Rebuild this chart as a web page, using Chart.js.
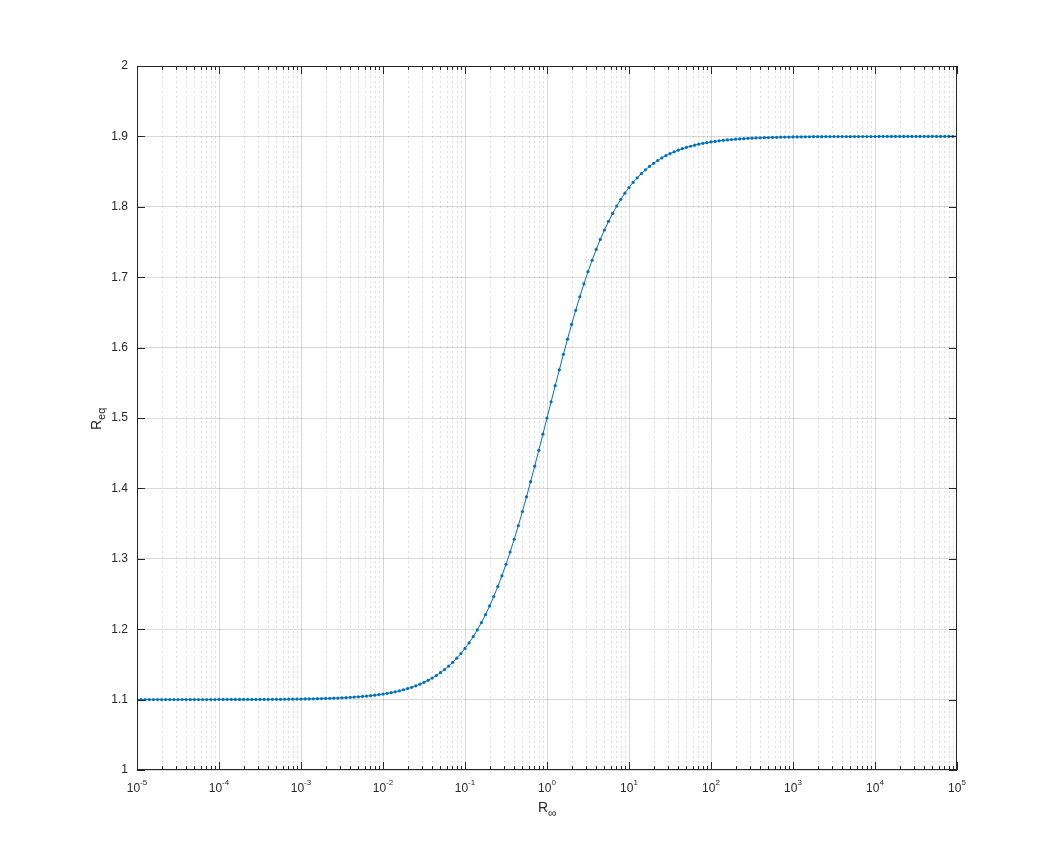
<!DOCTYPE html>
<html><head><meta charset="utf-8">
<script src="https://cdn.jsdelivr.net/npm/chart.js@4.4.0/dist/chart.umd.min.js"></script>
<style>html,body{margin:0;padding:0;background:#fff}#w{width:1058px;height:866px}</style>
</head><body><div id="w"><canvas id="c"></canvas></div>
<script>
// exponents of R_inf: -5 .. 5 in 0.05 steps (sampling grid)
const xStart = -5, xStep = 0.05;
const yNeg = [1.1000,1.1000,1.1000,1.1000,1.1000,1.1000,1.1000,1.1000,1.1000,1.1000,
1.1001,1.1001,1.1001,1.1001,1.1001,1.1001,1.1001,1.1001,1.1001,1.1001,
1.1002,1.1002,1.1002,1.1002,1.1002,1.1002,1.1002,1.1002,1.1002,1.1002,
1.1003,1.1003,1.1003,1.1004,1.1004,1.1004,1.1005,1.1006,1.1006,1.1007,
1.1008,1.1009,1.1010,1.1011,1.1013,1.1014,1.1016,1.1018,1.1020,1.1022,
1.1025,1.1028,1.1032,1.1036,1.1040,1.1045,1.1050,1.1056,1.1063,1.1071,
1.1079,1.1089,1.1099,1.1111,1.1125,1.1140,1.1157,1.1175,1.1196,1.1219,
1.1245,1.1274,1.1306,1.1342,1.1382,1.1426,1.1475,1.1529,1.1589,1.1654,
1.1727,1.1807,1.1894,1.1990,1.2094,1.2207,1.2330,1.2463,1.2606,1.2759,
1.2922,1.3095,1.3278,1.3470,1.3671,1.3880,1.4095,1.4316,1.4541,1.4770];
const yMid = [1.5000];
const yPos = [1.5230,1.5459,1.5684,1.5905,1.6120,1.6329,1.6530,1.6722,1.6905,1.7078,
1.7241,1.7394,1.7537,1.7670,1.7793,1.7906,1.8010,1.8106,1.8193,1.8273,
1.8346,1.8411,1.8471,1.8525,1.8574,1.8618,1.8658,1.8694,1.8726,1.8755,
1.8781,1.8804,1.8825,1.8843,1.8860,1.8875,1.8889,1.8901,1.8911,1.8921,
1.8929,1.8937,1.8944,1.8950,1.8955,1.8960,1.8964,1.8968,1.8972,1.8975,
1.8978,1.8980,1.8982,1.8984,1.8986,1.8987,1.8989,1.8990,1.8991,1.8992,
1.8993,1.8994,1.8994,1.8995,1.8996,1.8996,1.8996,1.8997,1.8997,1.8997,
1.8998,1.8998,1.8998,1.8998,1.8998,1.8998,1.8998,1.8998,1.8998,1.8998,
1.8999,1.8999,1.8999,1.8999,1.8999,1.8999,1.8999,1.8999,1.8999,1.8999,
1.9000,1.9000,1.9000,1.9000,1.9000,1.9000,1.9000,1.9000,1.9000,1.9000];
const yTicks = [1,1.1,1.2,1.3,1.4,1.5,1.6,1.7,1.8,1.9,2];
const xDecades = [-5,-4,-3,-2,-1,0,1,2,3,4,5];

const yAll = yNeg.concat(yMid, yPos);
const pts = yAll.map((y,i)=>({x:Math.pow(10, xStart + i*xStep), y}));

const FONT = 'Helvetica, "Liberation Sans", Arial, sans-serif';
const TXT = '#262626';

const deco = {
  id:'deco',
  beforeDatasetsDraw(chart){
    const {ctx, chartArea:a} = chart, xs = chart.scales.x;
    ctx.save();
    ctx.lineWidth = 1;
    for (const d of xDecades) {
      for (let m=1; m<=9; m++) {
        const v = m*Math.pow(10,d);
        if (v>1e5+1) continue;
        const px = Math.round(xs.getPixelForValue(v))+0.5;
        if (px<=a.left+1 || px>=a.right-1) continue;
        ctx.beginPath();
        if (m===1){ ctx.setLineDash([]); ctx.strokeStyle='rgba(0,0,0,0.15)'; }
        else { ctx.setLineDash([2,3]); ctx.strokeStyle='rgba(0,0,0,0.13)'; }
        ctx.moveTo(px,a.top); ctx.lineTo(px,a.bottom); ctx.stroke();
      }
    }
    ctx.restore();
  },
  afterDatasetsDraw(chart){
    const {ctx, chartArea:a} = chart, xs = chart.scales.x, ys = chart.scales.y;
    ctx.save();
    ctx.strokeStyle = '#262626'; ctx.lineWidth = 1; ctx.setLineDash([]);
    ctx.strokeRect(a.left+0.5, a.top+0.5, a.right-a.left-1, a.bottom-a.top-1);
    ctx.beginPath();
    for (const d of xDecades) {
      for (let m=1; m<=9; m++) {
        const v = m*Math.pow(10,d);
        if (v>1e5+1) continue;
        const px = Math.round(xs.getPixelForValue(v))+0.5;
        const L = m===1 ? 8 : 4;
        ctx.moveTo(px,a.bottom); ctx.lineTo(px,a.bottom-L);
        ctx.moveTo(px,a.top); ctx.lineTo(px,a.top+L);
      }
    }
    for (const t of yTicks) {
      const py = Math.round(ys.getPixelForValue(t))+0.5;
      ctx.moveTo(a.left,py); ctx.lineTo(a.left+8,py);
      ctx.moveTo(a.right,py); ctx.lineTo(a.right-8,py);
    }
    ctx.stroke();
    ctx.fillStyle = TXT;
    for (const d of xDecades) {
      const px = xs.getPixelForValue(Math.pow(10,d));
      ctx.font = '12px '+FONT;
      const w1 = ctx.measureText('10').width;
      ctx.font = '8px '+FONT;
      const sup = String(d);
      const w2 = ctx.measureText(sup).width;
      const x0 = px - (w1+w2)/2;
      ctx.textBaseline = 'alphabetic'; ctx.textAlign='left';
      ctx.font = '12px '+FONT; ctx.fillText('10', x0, a.bottom+22);
      ctx.font = '8px '+FONT; ctx.fillText(sup, x0+w1, a.bottom+15);
    }
    ctx.font = '14px '+FONT;
    const cx = (a.left+a.right)/2;
    const wr = ctx.measureText('R').width;
    ctx.fillText('R', cx-9, a.bottom+42);
    ctx.font = '12px '+FONT;
    ctx.fillText('\u221E', cx-9+wr, a.bottom+47);
    ctx.translate(a.left-36, (a.top+a.bottom)/2);
    ctx.rotate(-Math.PI/2);
    ctx.font = '14px '+FONT;
    const wR = ctx.measureText('R').width;
    ctx.fillText('R', -12, 0);
    ctx.font = '11px '+FONT;
    ctx.fillText('eq', -12+wR, 4);
    ctx.restore();
  }
};

new Chart(document.getElementById('c'), {
  type:'line',
  data:{datasets:[{data:pts, borderColor:'#0072BD', backgroundColor:'#0072BD',
    borderWidth:1, pointRadius:1.6, pointHoverRadius:1.6, pointBorderWidth:0, tension:0}]},
  options:{
    responsive:true, maintainAspectRatio:false, animation:false,
    layout:{padding:{top:66, right:101, left:0, bottom:0}},
    plugins:{legend:{display:false}, tooltip:{enabled:false}},
    scales:{
      x:{type:'logarithmic', min:1e-5, max:1e5,
        grid:{display:false}, border:{display:false},
        ticks:{display:false},
        afterFit(s){ s.height = 96; }},
      y:{type:'linear', min:1, max:2,
        afterBuildTicks(s){ s.ticks = yTicks.map(v=>({value:v})); },
        grid:{color:'rgba(0,0,0,0.15)', drawTicks:false}, border:{display:false},
        ticks:{color:TXT, font:{size:12, family:FONT}, padding:9,
          callback:v=>String(Math.round(v*10)/10)},
        afterFit(s){ s.width = 137; }}
    }
  },
  plugins:[deco]
});
</script></body></html>
